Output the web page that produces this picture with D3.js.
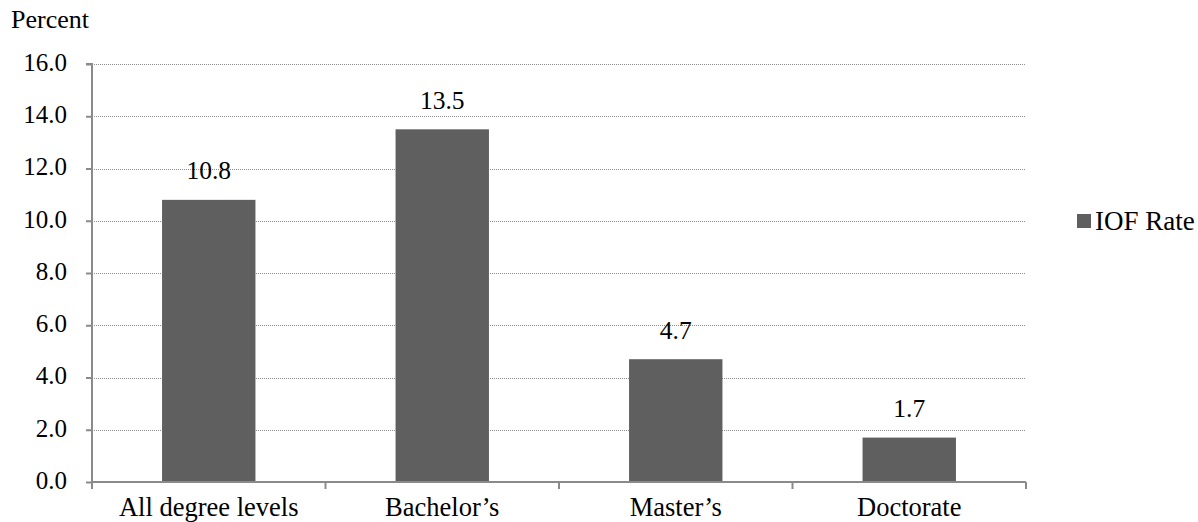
<!DOCTYPE html>
<html>
<head>
<meta charset="utf-8">
<script src="https://cdn.jsdelivr.net/npm/d3@7"></script>
<style>
  html, body { margin: 0; padding: 0; background: #fff; }
</style>
</head>
<body>
<svg id="chart" width="1198" height="522"></svg>
<script>
// IOF rate by degree level
const categories = ["All degree levels", "Bachelor\u2019s", "Master\u2019s", "Doctorate"];
const iofRate = [10.8, 13.5, 4.7, 1.7];
const yTicks = [0, 2, 4, 6, 8, 10, 12, 14, 16];
const seriesName = "IOF Rate";
const yTitle = "Percent";

const serif = "Liberation Serif";
const svg = d3.select("#chart");
const plotL = 92, plotR = 1026, plotT = 64, plotB = 482;

const x = d3.scaleBand().domain(categories).range([plotL, plotR]).paddingInner(0).paddingOuter(0);
const y = d3.scaleLinear().domain([0, 16]).range([plotB, plotT]);

const barColor = "#5f5f5f";
const axisColor = "#8a8a8a";

// gridlines
svg.append("g").selectAll("line").data(yTicks.filter(d => d > 0)).join("line")
  .attr("x1", plotL).attr("x2", plotR)
  .attr("y1", d => Math.round(y(d)) + 0.5).attr("y2", d => Math.round(y(d)) + 0.5)
  .attr("stroke", "#8c8c8c").attr("stroke-width", 1).attr("stroke-dasharray", "1,1");

// bars
const barW = x.bandwidth() * 0.4;
svg.append("g").selectAll("rect").data(categories).join("rect")
  .attr("x", d => x(d) + (x.bandwidth() - barW) / 2)
  .attr("width", barW)
  .attr("y", (d, i) => y(iofRate[i]))
  .attr("height", (d, i) => y(0) - y(iofRate[i]))
  .attr("fill", barColor);

// value labels
svg.append("g").selectAll("text").data(categories).join("text")
  .attr("x", d => x(d) + x.bandwidth() / 2)
  .attr("y", (d, i) => y(iofRate[i]) - 20.5)
  .attr("text-anchor", "middle")
  .style("font-family", serif).style("font-size", "25.5px").attr("fill", "#000")
  .text((d, i) => iofRate[i].toFixed(1));

// y axis
const yAxis = d3.axisLeft(y).tickValues(yTicks).tickFormat(d3.format(".1f")).tickSize(6).tickPadding(19);
const gy = svg.append("g").attr("transform", `translate(${plotL},0)`).call(yAxis);
gy.select(".domain").attr("stroke", axisColor).attr("stroke-width", 2).attr("d", `M-6,${plotT}H0V${plotB}`);
gy.selectAll(".tick line").attr("stroke", axisColor).attr("stroke-width", 2);
gy.selectAll(".tick text").attr("dy", "0.25em")
  .style("font-family", serif).style("font-size", "25px").attr("fill", "#000");

// x axis
const xAxis = d3.axisBottom(x).tickSize(0);
const gx = svg.append("g").attr("transform", `translate(0,${plotB})`).call(xAxis);
gx.select(".domain").attr("stroke", axisColor).attr("stroke-width", 2).attr("d", `M${plotL},0H${plotR}`);
gx.selectAll(".tick text").attr("y", 34).attr("dy", null)
  .style("font-family", serif).style("font-size", "26.5px").attr("fill", "#000");
// category boundary ticks
const bounds = categories.map(c => x(c)).concat([plotR]);
gx.append("g").selectAll("line").data(bounds).join("line")
  .attr("x1", d => d).attr("x2", d => d).attr("y1", 0).attr("y2", 7)
  .attr("stroke", axisColor).attr("stroke-width", 2);

// axis title
svg.append("text").attr("x", 11).attr("y", 28)
  .style("font-family", serif).style("font-size", "26px").attr("fill", "#000").text(yTitle);

// legend
const lg = svg.append("g").attr("transform", "translate(1077,214)");
lg.append("rect").attr("width", 14).attr("height", 14).attr("fill", barColor);
lg.append("text").attr("x", 18).attr("y", 16)
  .style("font-family", serif).style("font-size", "27px").attr("fill", "#000").text(seriesName);
</script>
</body>
</html>
